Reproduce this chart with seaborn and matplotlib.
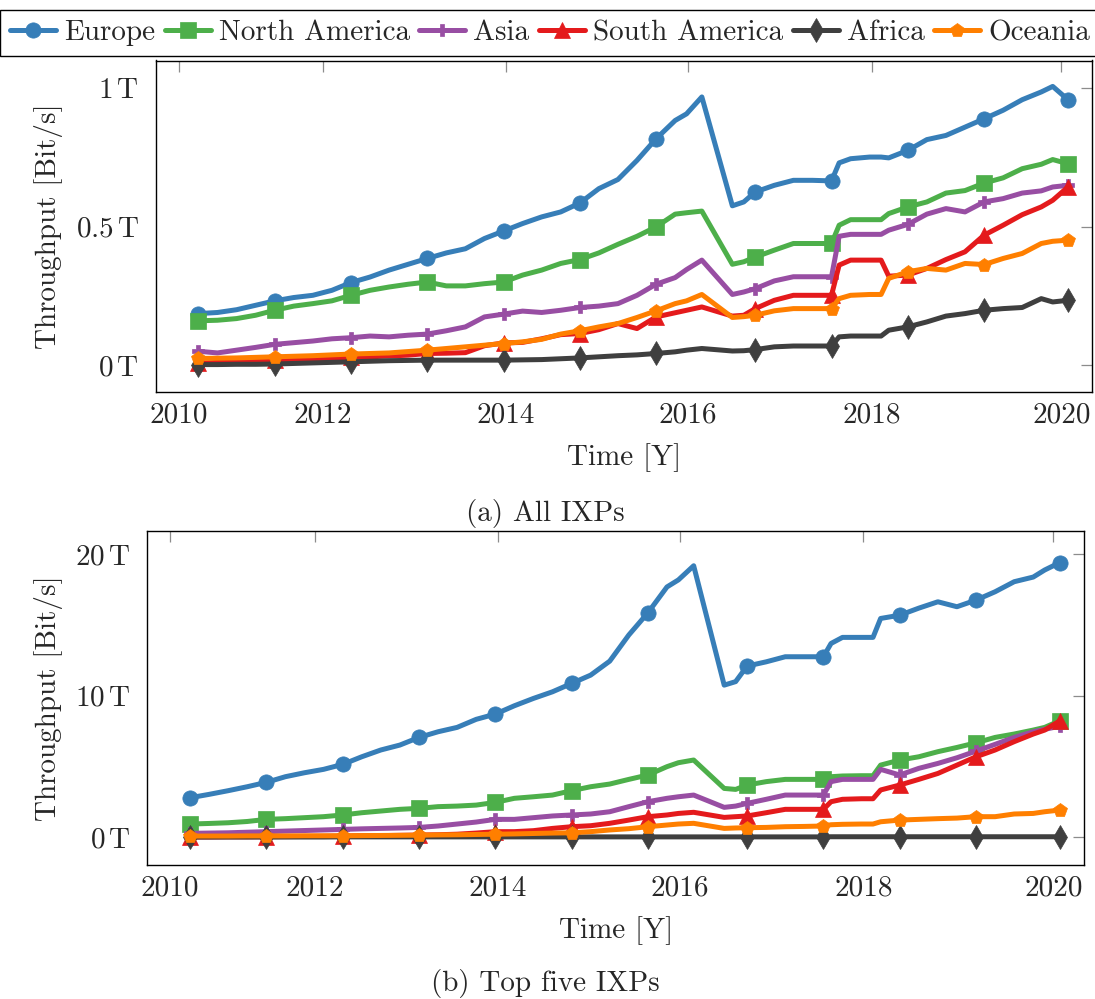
import numpy as np
import pandas as pd
import matplotlib
matplotlib.use("Agg")
import matplotlib.pyplot as plt
import seaborn as sns

# ---------------- data ----------------
months = [0, 2.5, 5, 7.5, 10, 12.5, 15, 17.5, 20, 22.5, 25, 27.5, 30, 32.5, 35, 37.5,
          40, 42.5, 45, 47.5, 50, 52.5, 55, 57.5, 60, 62.5, 64, 66,
          70, 71.5, 73, 75.5, 78, 80.5, 83, 84, 85.5, 88, 89.5, 90.5, 93, 95.5,
          98, 100.5, 103, 105.5, 108, 110.5, 112, 114]
marker_idx = [0, 4, 8, 12, 16, 20, 24, 30, 34, 40, 44, 49]

regions = ["Europe", "North America", "Asia", "South America", "Africa", "Oceania"]
colors = ["#377eb8", "#4daf4a", "#984ea3", "#e41a1c", "#3f3f3f", "#ff7f00"]

# (a) All IXPs, Tbit/s
all_europe = [0.186, 0.19, 0.20, 0.216, 0.232, 0.244, 0.252, 0.27, 0.298, 0.318, 0.343, 0.364,
              0.385, 0.405, 0.42, 0.457, 0.484, 0.511, 0.535, 0.553, 0.585, 0.637, 0.67, 0.739,
              0.817, 0.883, 0.907, 0.968, 0.575, 0.589, 0.625, 0.649, 0.667, 0.667, 0.665, 0.73,
              0.745, 0.751, 0.751, 0.748, 0.775, 0.814, 0.829, 0.859, 0.889, 0.92, 0.958, 0.986,
              1.006, 0.958]
all_namerica = [0.16, 0.162, 0.168, 0.18, 0.198, 0.213, 0.222, 0.232, 0.252, 0.27, 0.282, 0.292,
                0.30, 0.286, 0.286, 0.294, 0.30, 0.325, 0.343, 0.367, 0.381, 0.405, 0.436, 0.465,
                0.499, 0.545, 0.55, 0.556, 0.364, 0.373, 0.39, 0.415, 0.439, 0.439, 0.439, 0.505,
                0.525, 0.525, 0.525, 0.547, 0.571, 0.589, 0.621, 0.63, 0.657, 0.676, 0.709, 0.725,
                0.742, 0.727]
all_asia = [0.05, 0.044, 0.054, 0.064, 0.075, 0.081, 0.087, 0.095, 0.099, 0.105, 0.102, 0.108,
            0.112, 0.124, 0.138, 0.174, 0.184, 0.195, 0.19, 0.198, 0.208, 0.213, 0.222, 0.252,
            0.292, 0.316, 0.345, 0.379, 0.255, 0.264, 0.276, 0.304, 0.319, 0.319, 0.319, 0.465,
            0.472, 0.472, 0.472, 0.487, 0.508, 0.545, 0.565, 0.553, 0.589, 0.601, 0.621, 0.629,
            0.643, 0.649]
all_samerica = [0.006, 0.01, 0.013, 0.016, 0.018, 0.02, 0.022, 0.025, 0.028, 0.03, 0.033, 0.036,
                0.042, 0.043, 0.045, 0.07, 0.08, 0.082, 0.095, 0.11, 0.114, 0.128, 0.15, 0.132,
                0.174, 0.189, 0.198, 0.21, 0.177, 0.18, 0.204, 0.234, 0.252, 0.252, 0.252, 0.361,
                0.379, 0.379, 0.379, 0.321, 0.325, 0.349, 0.381, 0.409, 0.469, 0.505, 0.543, 0.571,
                0.595, 0.643]
all_africa = [0.002, 0.002, 0.003, 0.003, 0.004, 0.006, 0.008, 0.01, 0.012, 0.014, 0.016, 0.017,
              0.018, 0.018, 0.018, 0.018, 0.018, 0.019, 0.02, 0.023, 0.026, 0.03, 0.034, 0.037,
              0.042, 0.048, 0.054, 0.06, 0.051, 0.052, 0.056, 0.066, 0.069, 0.069, 0.069, 0.102,
              0.105, 0.105, 0.105, 0.126, 0.138, 0.156, 0.177, 0.186, 0.198, 0.204, 0.208, 0.24,
              0.228, 0.234]
all_oceania = [0.024, 0.025, 0.026, 0.028, 0.03, 0.032, 0.034, 0.037, 0.04, 0.042, 0.044, 0.049,
               0.054, 0.06, 0.066, 0.072, 0.078, 0.084, 0.093, 0.112, 0.124, 0.138, 0.15, 0.172,
               0.196, 0.222, 0.232, 0.255, 0.172, 0.175, 0.18, 0.196, 0.204, 0.204, 0.204, 0.24,
               0.252, 0.255, 0.255, 0.313, 0.337, 0.349, 0.343, 0.367, 0.363, 0.385, 0.403, 0.439,
               0.447, 0.451]

# (b) Top five IXPs, Tbit/s
top_europe = [2.78, 3.02, 3.28, 3.56, 3.87, 4.27, 4.55, 4.79, 5.14, 5.68, 6.16, 6.51, 7.05, 7.45,
              7.76, 8.33, 8.70, 9.29, 9.81, 10.28, 10.87, 11.46, 12.45, 14.3, 15.87, 17.7, 18.2,
              19.2, 10.75, 11.0, 12.1, 12.4, 12.76, 12.76, 12.76, 13.7, 14.13, 14.13, 14.13,
              15.47, 15.7, 16.2, 16.65, 16.3, 16.77, 17.36, 18.07, 18.4, 18.9, 19.43]
top_namerica = [0.92, 0.96, 1.01, 1.1, 1.25, 1.3, 1.37, 1.44, 1.56, 1.72, 1.84, 1.96, 2.03, 2.15,
                2.19, 2.26, 2.45, 2.74, 2.85, 2.97, 3.28, 3.56, 3.75, 4.08, 4.39, 4.98, 5.26, 5.45,
                3.44, 3.37, 3.68, 3.92, 4.08, 4.08, 4.08, 4.27, 4.32, 4.34, 4.34, 5.09, 5.45, 5.68,
                6.04, 6.34, 6.67, 7.05, 7.29, 7.57, 7.76, 8.23]
top_asia = [0.26, 0.28, 0.3, 0.34, 0.38, 0.42, 0.46, 0.5, 0.54, 0.58, 0.61, 0.64, 0.68, 0.78, 0.92,
            1.06, 1.25, 1.25, 1.37, 1.49, 1.56, 1.63, 1.79, 2.15, 2.5, 2.74, 2.85, 2.97, 2.10, 2.19,
            2.38, 2.67, 2.97, 2.97, 2.97, 3.92, 4.08, 4.08, 4.08, 4.79, 4.39, 4.86, 5.21, 5.61,
            6.08, 6.56, 7.05, 7.45, 7.62, 7.85]
top_samerica = [0.0, 0.0, 0.01, 0.01, 0.02, 0.03, 0.04, 0.05, 0.07, 0.09, 0.1, 0.12, 0.14, 0.16,
                0.2, 0.28, 0.38, 0.38, 0.45, 0.61, 0.73, 0.8, 0.97, 1.2, 1.44, 1.56, 1.67, 1.75,
                1.39, 1.44, 1.49, 1.72, 1.96, 1.96, 1.96, 2.5, 2.67, 2.71, 2.71, 3.33, 3.68, 4.08,
                4.5, 5.09, 5.68, 6.16, 6.75, 7.29, 7.57, 8.23]
top_africa = [0.0, 0.0, 0.0, 0.0, 0.0, 0.0, 0.0, 0.0, 0.01, 0.01, 0.01, 0.01, 0.01, 0.01, 0.01,
              0.01, 0.01, 0.01, 0.01, 0.01, 0.01, 0.01, 0.01, 0.01, 0.01, 0.01, 0.01, 0.01, 0.01,
              0.01, 0.01, 0.01, 0.01, 0.01, 0.01, 0.02, 0.02, 0.02, 0.02, 0.02, 0.02, 0.02, 0.02,
              0.02, 0.02, 0.02, 0.02, 0.02, 0.02, 0.02]
top_oceania = [0.07, 0.07, 0.07, 0.08, 0.08, 0.08, 0.09, 0.09, 0.09, 0.1, 0.11, 0.12, 0.13, 0.15,
               0.16, 0.18, 0.2, 0.22, 0.25, 0.28, 0.3, 0.38, 0.5, 0.59, 0.73, 0.85, 0.92, 0.97,
               0.61, 0.64, 0.66, 0.68, 0.73, 0.75, 0.78, 0.87, 0.9, 0.92, 0.92, 1.08, 1.2, 1.25,
               1.3, 1.34, 1.44, 1.44, 1.63, 1.67, 1.79, 1.91]

xtick_pos = [-2.6, 16.35, 40.3, 64.2, 88.25, 113.15]
xtick_labels = ["2010", "2012", "2014", "2016", "2018", "2020"]
ytick_all = [0, 0.5, 1]
ytick_all_labels = [r"$0\,\mathrm{T}$", r"$0.5\,\mathrm{T}$", r"$1\,\mathrm{T}$"]
ytick_top = [0, 10, 20]
ytick_top_labels = [r"$0\,\mathrm{T}$", r"$10\,\mathrm{T}$", r"$20\,\mathrm{T}$"]

# ---------------- style ----------------
sns.set_theme(style="white")
plt.rcParams["font.family"] = ["cmr10", "DejaVu Serif"]
plt.rcParams["mathtext.fontset"] = "cm"
plt.rcParams["axes.formatter.use_mathtext"] = True
FS = 21

markers = ["o", "s", "P", "^", "d", "p"]
msizes = [11, 12, 9, 12, 12, 10]

fig = plt.figure(figsize=(10.95, 9.99), dpi=100)
ax1 = fig.add_axes([155.7 / 1095, 1 - 392 / 999, (1092 - 155.7) / 1095, (392 - 60.5) / 999])
ax2 = fig.add_axes([147.3 / 1095, 1 - 865 / 999, (1084 - 147.3) / 1095, (865 - 531) / 999])

series_all = [all_europe, all_namerica, all_asia, all_samerica, all_africa, all_oceania]
series_top = [top_europe, top_namerica, top_asia, top_samerica, top_africa, top_oceania]

for ax, series in [(ax1, series_all), (ax2, series_top)]:
    for name, vals, c, mk, ms in zip(regions, series, colors, markers, msizes):
        df = pd.DataFrame({"month": months, "value": vals})
        sns.lineplot(data=df, x="month", y="value", ax=ax, color=c, lw=3.6,
                     marker=mk, markersize=ms, markevery=marker_idx,
                     markeredgecolor=c, markeredgewidth=0.5, label=name, sort=False,
                     estimator=None)
    if ax.get_legend() is not None:
        ax.get_legend().remove()
    ax.set_xlim(-5.6, 117.15)
    ax.set_xticks(xtick_pos)
    ax.set_xticklabels(xtick_labels)
    ax.set_xlabel("Time [Y]", fontsize=FS, labelpad=11)
    ax.set_ylabel("Throughput [Bit/s]", fontsize=FS, labelpad=9)
    ax.tick_params(axis="both", direction="in", length=8, width=0.9, color="#8c8c8c",
                   top=True, right=True, labelsize=FS)
    ax.tick_params(axis="x", pad=7)
    ax.tick_params(axis="y", pad=12)
    for sp in ax.spines.values():
        sp.set_color("black")
        sp.set_linewidth(1.0)
        sp.set_visible(True)
    ax.grid(False)

ax1.set_ylim(-0.097, 1.0995)
ax1.set_yticks(ytick_all)
ax1.set_yticklabels(ytick_all_labels)
ax2.set_ylim(-1.98, 21.66)
ax2.set_yticks(ytick_top)
ax2.set_yticklabels(ytick_top_labels)

handles, labels = ax1.get_legend_handles_labels()
leg = fig.legend(handles, labels, loc="upper center", bbox_to_anchor=(550 / 1095, 1 - 9.5 / 999),
                 ncol=6, fontsize=FS, frameon=True, fancybox=False, edgecolor="black",
                 framealpha=1, borderpad=0.35, handlelength=1.58, handletextpad=0.27,
                 columnspacing=0.33, borderaxespad=0)
leg.get_frame().set_linewidth(1.0)

fig.text(545 / 1095, 1 - 513 / 999, "(a) All IXPs", ha="center", va="center", fontsize=FS)
fig.text(545 / 1095, 1 - 983 / 999, "(b) Top five IXPs", ha="center", va="center", fontsize=FS)

fig.savefig("out.png", dpi=100)
